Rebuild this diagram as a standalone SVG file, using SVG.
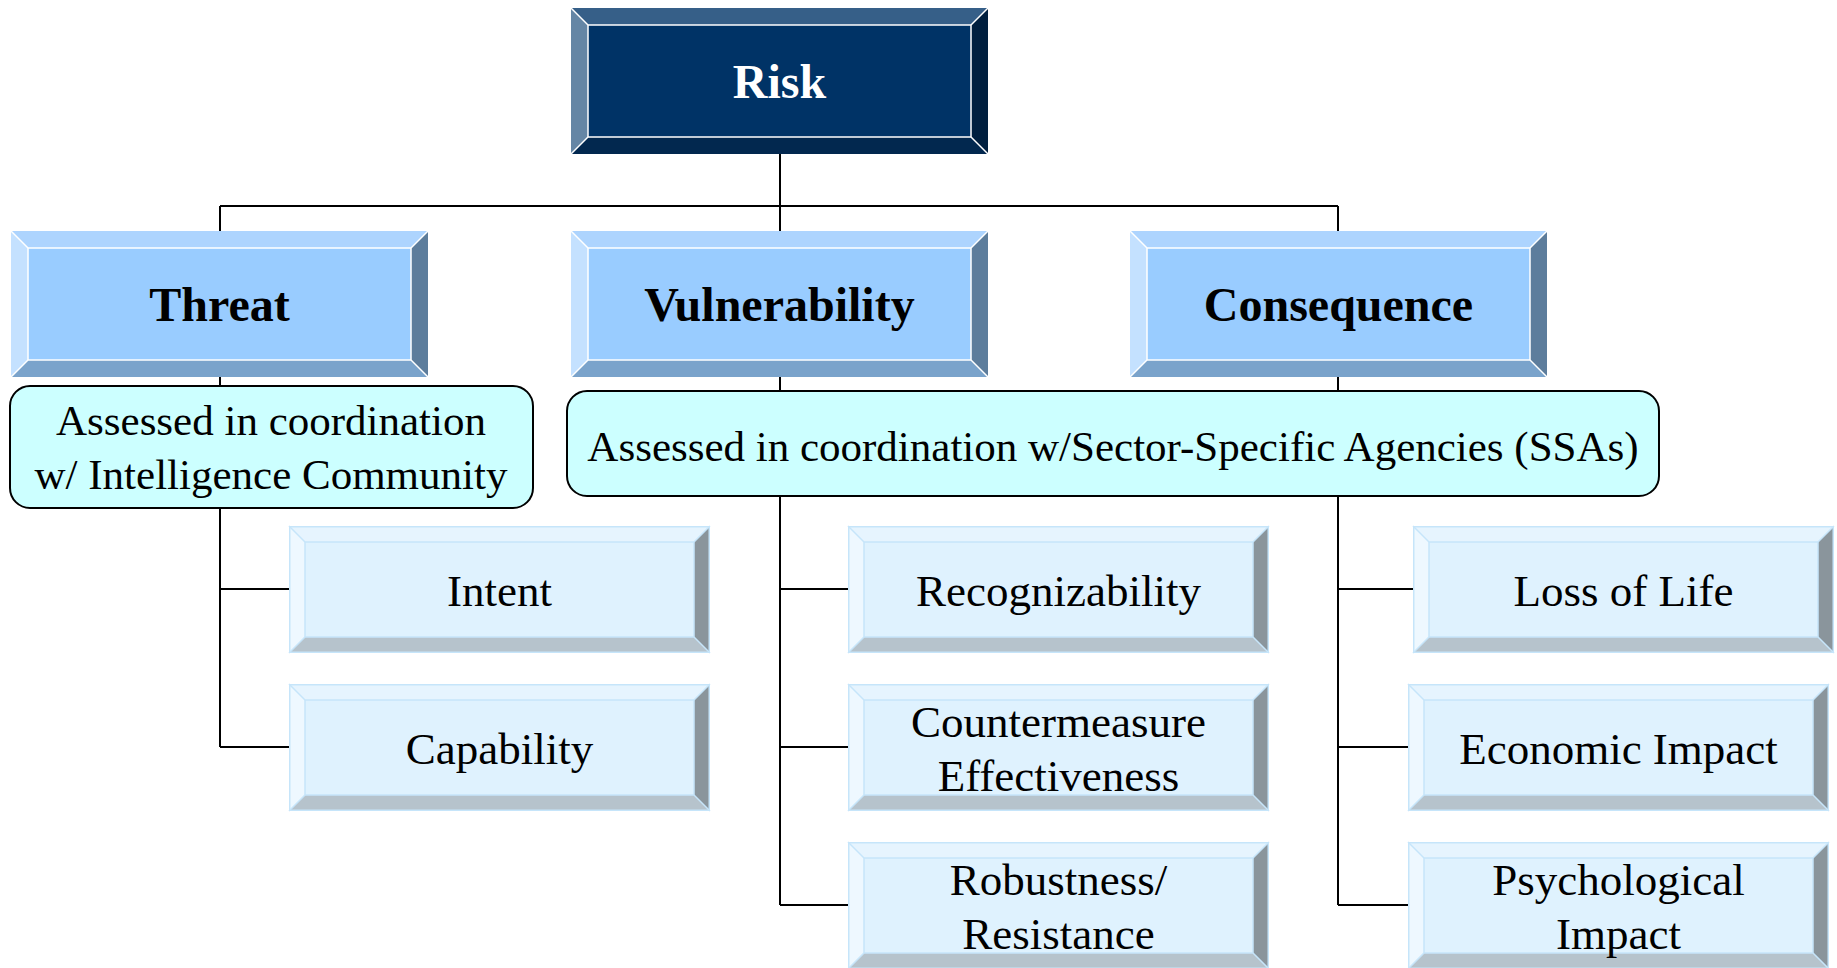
<svg xmlns="http://www.w3.org/2000/svg" xmlns:xlink="http://www.w3.org/1999/xlink" width="1837" height="968" viewBox="0 0 1837 968">
  <style>
    text { font-family: "Liberation Serif", "Times New Roman", serif; text-anchor: middle; }
    .hd { font-size: 48px; font-weight: bold; fill: #000; }
    .rk { font-size: 48px; font-weight: bold; fill: #fff; }
    .lf { font-size: 45px; fill: #000; }
    .nt { font-size: 43px; fill: #000; }
    .note { fill: #ccffff; stroke: #000; stroke-width: 2; }
    .wire { fill: none; stroke: #000; stroke-width: 2; }
  </style>
  <defs>
    <!-- bevelled box, 417 x 146, dark navy -->
    <symbol id="riskBox" overflow="visible">
      <polygon points="0,0 417,0 400,17 17,17" fill="#365f88"/>
      <polygon points="0,0 17,17 17,129 0,146" fill="#6586a5"/>
      <polygon points="417,0 400,17 400,129 417,146" fill="#001f3f"/>
      <polygon points="0,146 17,129 400,129 417,146" fill="#02284f"/>
      <rect x="17" y="17" width="383" height="112" fill="#003366"/>
      <g stroke="#fff" stroke-width="1.5" fill="none">
        <rect x="17" y="17" width="383" height="112"/>
        <path d="M0,0 L17,17 M417,0 L400,17 M0,146 L17,129 M417,146 L400,129"/>
      </g>
    </symbol>
    <!-- bevelled box, 417 x 146, mid blue -->
    <symbol id="headBox" overflow="visible">
      <polygon points="0,0 417,0 400,17 17,17" fill="#add4fe"/>
      <polygon points="0,0 17,17 17,129 0,146" fill="#c4e1ff"/>
      <polygon points="417,0 400,17 400,129 417,146" fill="#5d7d9c"/>
      <polygon points="0,146 17,129 400,129 417,146" fill="#7aa3cb"/>
      <rect x="17" y="17" width="383" height="112" fill="#99ccff"/>
      <g stroke="#fff" stroke-width="1.5" fill="none">
        <rect x="17" y="17" width="383" height="112"/>
        <path d="M0,0 L17,17 M417,0 L400,17 M0,146 L17,129 M417,146 L400,129"/>
      </g>
    </symbol>
    <!-- bevelled box, 421 x 127, pale blue -->
    <symbol id="leafBox" overflow="visible">
      <polygon points="0,0 421,0 405,16 16,16" fill="#e6f4fe"/>
      <polygon points="0,0 16,16 16,111 0,127" fill="#eef8ff"/>
      <polygon points="421,0 405,16 405,111 421,127" fill="#8a959c"/>
      <polygon points="0,127 16,111 405,111 421,127" fill="#b6c3cc"/>
      <rect x="16" y="16" width="389" height="95" fill="#dff2fe"/>
      <g stroke="#c6e5fa" stroke-width="1.5" fill="none">
        <rect x="0.75" y="0.75" width="419.5" height="125.5"/>
        <rect x="16" y="16" width="389" height="95"/>
        <path d="M0,0 L16,16 M421,0 L405,16 M0,127 L16,111 M421,127 L405,111"/>
      </g>
    </symbol>
  </defs>

  <!-- tree connectors -->
  <g id="connectors" class="wire">
    <path d="M780,154 V206 M220,206 H1338 M220,206 V231 M780,206 V231 M1338,206 V231"/>
    <path d="M220,377 V386 M780,377 V391 M1338,377 V391"/>
    <path d="M220,508 V747 M220,589 H289 M220,747 H289"/>
    <path d="M780,496 V905 M780,589 H848 M780,747 H848 M780,905 H848"/>
    <path d="M1338,496 V905 M1338,589 H1413 M1338,747 H1408 M1338,905 H1408"/>
  </g>

  <g id="risk">
    <use xlink:href="#riskBox" x="571" y="8"/>
    <text class="rk" x="779.5" y="98">Risk</text>
  </g>

  <g id="threat">
    <use xlink:href="#headBox" x="11" y="231"/>
    <text class="hd" x="219.5" y="321">Threat</text>
  </g>
  <g id="vulnerability">
    <use xlink:href="#headBox" x="571" y="231"/>
    <text class="hd" x="779.5" y="321">Vulnerability</text>
  </g>
  <g id="consequence">
    <use xlink:href="#headBox" x="1130" y="231"/>
    <text class="hd" x="1338.5" y="321">Consequence</text>
  </g>

  <g id="note-ic">
    <rect class="note" x="10" y="386" width="523" height="122" rx="20" ry="20"/>
    <text class="nt" x="271" y="435">Assessed in coordination</text>
    <text class="nt" x="271" y="489">w/ Intelligence Community</text>
  </g>
  <g id="note-ssa">
    <rect class="note" x="567" y="391" width="1092" height="105" rx="20" ry="20"/>
    <text class="nt" x="1113" y="461">Assessed in coordination w/Sector-Specific Agencies (SSAs)</text>
  </g>

  <g id="intent">
    <use xlink:href="#leafBox" x="289" y="526"/>
    <text class="lf" x="499.5" y="606">Intent</text>
  </g>
  <g id="capability">
    <use xlink:href="#leafBox" x="289" y="684"/>
    <text class="lf" x="499.5" y="764">Capability</text>
  </g>

  <g id="recognizability">
    <use xlink:href="#leafBox" x="848" y="526"/>
    <text class="lf" x="1058.5" y="606">Recognizability</text>
  </g>
  <g id="countermeasure">
    <use xlink:href="#leafBox" x="848" y="684"/>
    <text class="lf" x="1058.5" y="737">Countermeasure</text>
    <text class="lf" x="1058.5" y="791">Effectiveness</text>
  </g>
  <g id="robustness">
    <use xlink:href="#leafBox" x="848" y="842"/>
    <text class="lf" x="1058.5" y="895">Robustness/</text>
    <text class="lf" x="1058.5" y="949">Resistance</text>
  </g>

  <g id="loss-of-life">
    <use xlink:href="#leafBox" x="1413" y="526"/>
    <text class="lf" x="1623.5" y="606">Loss of Life</text>
  </g>
  <g id="economic-impact">
    <use xlink:href="#leafBox" x="1408" y="684"/>
    <text class="lf" x="1618.5" y="764">Economic Impact</text>
  </g>
  <g id="psychological-impact">
    <use xlink:href="#leafBox" x="1408" y="842"/>
    <text class="lf" x="1618.5" y="895">Psychological</text>
    <text class="lf" x="1618.5" y="949">Impact</text>
  </g>
</svg>
